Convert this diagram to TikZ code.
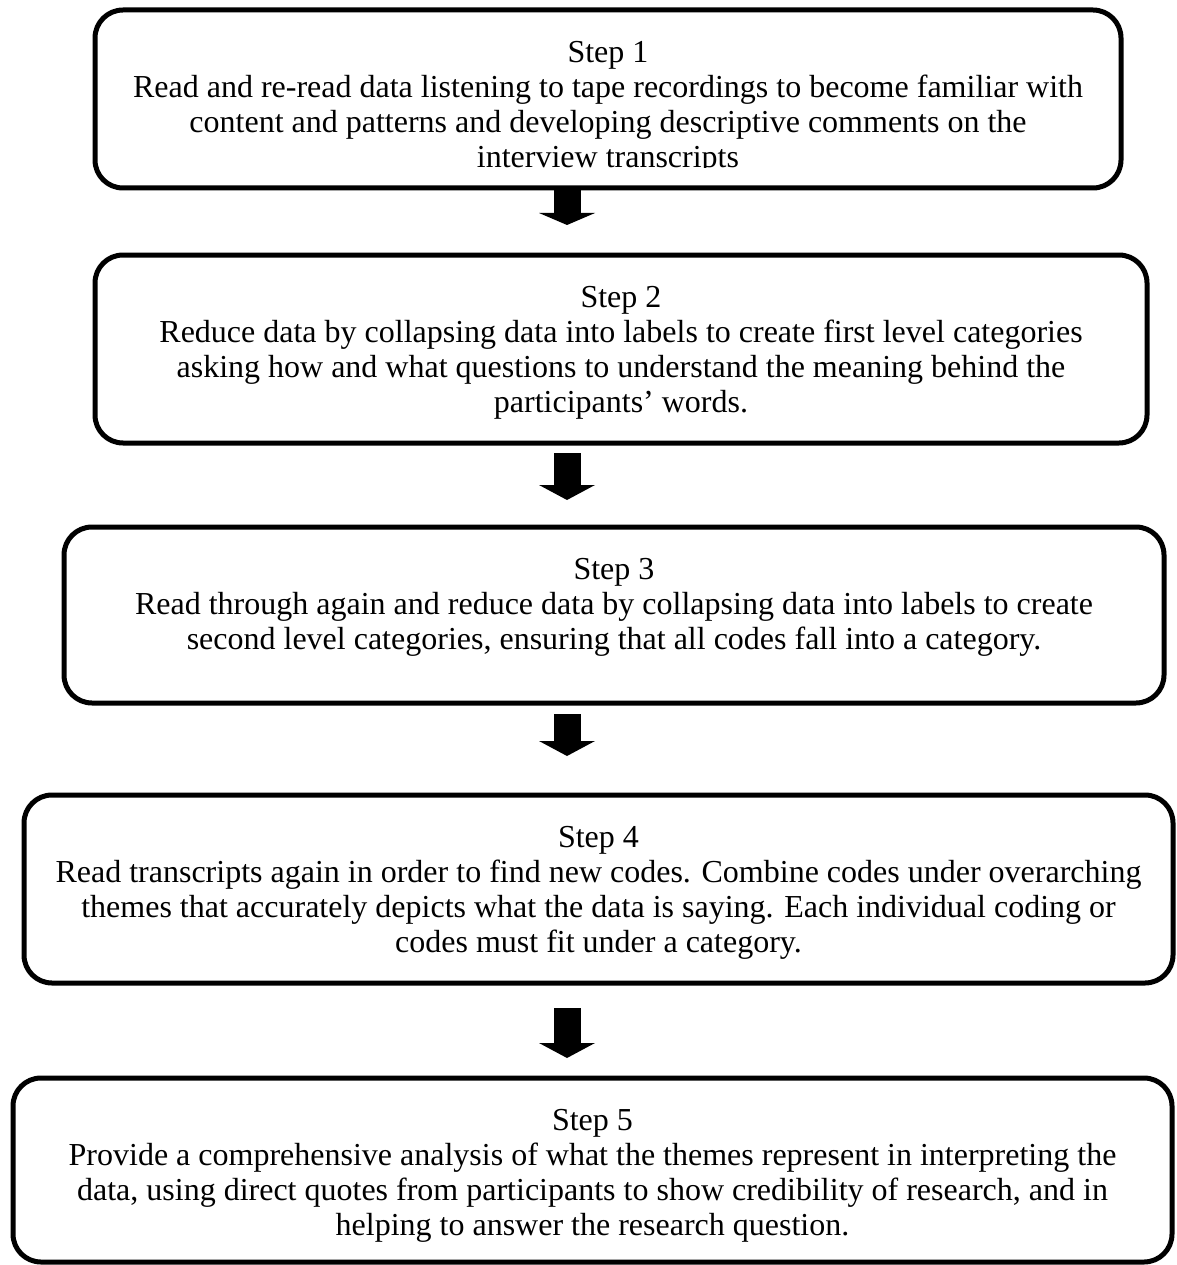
\documentclass[tikz,border=0pt]{standalone}
\usepackage{fontspec}
\setmainfont{Liberation Serif}
\usetikzlibrary{calc}
\begin{document}
\begin{tikzpicture}[x=1pt,y=-1pt,
  stepbox/.style={draw=black, line width=5pt, rounded corners=28pt, inner sep=0pt, outer sep=0pt},
  steptext/.style={align=center, inner sep=0pt, outer sep=0pt, font=\fontsize{32}{35}\selectfont, anchor=north},
  shaft/.style={draw=black, line width=27pt},
  arrowhead/.style={fill=black}]
\useasboundingbox (0,0) rectangle (1176,1265);
\coordinate (ax) at (567,0);

% boxes
\node[stepbox, minimum width=1026pt, minimum height=178pt] (b1) at (608,99) {};
\node[stepbox, minimum width=1052pt, minimum height=188pt] (b2) at (621,349) {};
\node[stepbox, minimum width=1100pt, minimum height=176pt] (b3) at (614,615) {};
\node[stepbox, minimum width=1149pt, minimum height=188pt] (b4) at (598.5,889) {};
\node[stepbox, minimum width=1159pt, minimum height=184pt] (b5) at (592.5,1170) {};

% texts
\begin{scope}
  \clip (0,0) rectangle (1176,168);
  \node[steptext] (t1) at ([yshift=-31pt]b1.north) {Step 1\\Read and re-read data listening to tape recordings to become familiar with\\content and patterns and developing descriptive comments on the\\interview transcripts};
\end{scope}
\node[steptext] (t2) at ([yshift=-31pt]b2.north) {Step 2\\Reduce data by collapsing data into labels to create first level categories\\asking how and what questions to understand the meaning behind the\\participants’ words.};
\node[steptext] (t3) at ([yshift=-31pt]b3.north) {Step 3\\Read through again and reduce data by collapsing data into labels to create\\second level categories, ensuring that all codes fall into a category.};
\node[steptext] (t4) at ([yshift=-31pt]b4.north) {Step 4\\Read transcripts again in order to find new codes. Combine codes under overarching\\themes that accurately depicts what the data is saying. Each individual coding or\\codes must fit under a category.};
\node[steptext] (t5) at ([yshift=-31pt]b5.north) {Step 5\\Provide a comprehensive analysis of what the themes represent in interpreting the\\data, using direct quotes from participants to show credibility of research, and in\\helping to answer the research question.};

% block arrows
\path (b1.south -| ax) coordinate (s1) ++(0,25) coordinate (h1) ++(0,12) coordinate (e1);
\path (b2.south -| ax) ++(0,10) coordinate (s2) ++(0,32) coordinate (h2) ++(0,15) coordinate (e2);
\path (b3.south -| ax) ++(0,11) coordinate (s3) ++(0,27) coordinate (h3) ++(0,15) coordinate (e3);
\path (b4.south -| ax) ++(0,25) coordinate (s4) ++(0,35) coordinate (h4) ++(0,15) coordinate (e4);

\draw[shaft] (s1) -- ($(h1)+(0,0.5)$);
\fill[arrowhead] ($(h1)+(-28,0)$) -- ($(h1)+(28,0)$) -- (e1) -- cycle;
\draw[shaft] (s2) -- ($(h2)+(0,0.5)$);
\fill[arrowhead] ($(h2)+(-28,0)$) -- ($(h2)+(28,0)$) -- (e2) -- cycle;
\draw[shaft] (s3) -- ($(h3)+(0,0.5)$);
\fill[arrowhead] ($(h3)+(-28,0)$) -- ($(h3)+(28,0)$) -- (e3) -- cycle;
\draw[shaft] (s4) -- ($(h4)+(0,0.5)$);
\fill[arrowhead] ($(h4)+(-28,0)$) -- ($(h4)+(28,0)$) -- (e4) -- cycle;
\end{tikzpicture}
\end{document}
